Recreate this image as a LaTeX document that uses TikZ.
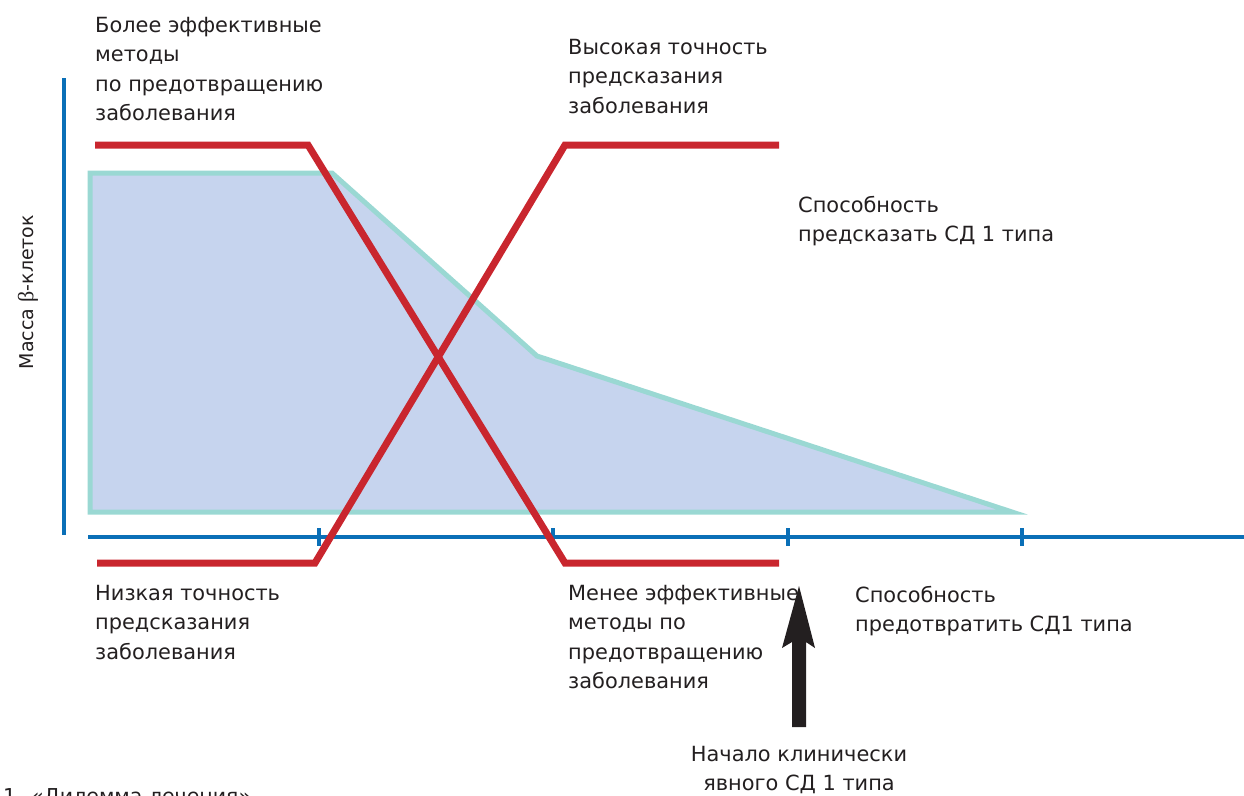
\documentclass[tikz,border=0pt]{standalone}
\usepackage{fontspec}
\setmainfont{DejaVu Sans}
\newfontfamily\betafont{Liberation Serif}
\definecolor{axisblue}{HTML}{0A6FB7}
\definecolor{fillblue}{HTML}{C6D4EE}
\definecolor{tealedge}{HTML}{9AD8D3}
\definecolor{redline}{HTML}{C9262E}
\definecolor{txt}{HTML}{231F20}
\begin{document}
\begin{tikzpicture}[x=1pt,y=-1pt,
  lbl/.style={anchor=north west,align=left,inner sep=0pt,text=txt,font=\fontsize{20.9}{29.3}\selectfont},
  axisline/.style={draw=axisblue,line width=4pt},
  tickmark/.style={draw=axisblue,line width=4pt},
  redpath/.style={draw=redline,line width=7pt,line join=miter,line cap=butt}]
\useasboundingbox (0,0) rectangle (1244,795);
\clip (0,0) rectangle (1244,795);
% beta-cell mass area
\filldraw[fill=fillblue,draw=tealedge,line width=5pt,line join=miter]
  (90,173) -- (332,173) -- (537,356) -- (1012,512) -- (90,512) -- cycle;
% axes
\coordinate (ytop) at (64,78);
\coordinate (ybot) at (64,535);
\coordinate (xl) at (88,537);
\coordinate (xr) at (1244,537);
\draw[axisline] (ytop) -- (ybot);
\draw[axisline] (xl) -- (xr);
\foreach \tx in {319,553,788,1022}{
  \draw[tickmark] (\tx,528) -- (\tx,546);
}
% red lines
\coordinate (a1) at (95,145);
\coordinate (a2) at (308,145);
\coordinate (a3) at (565,563);
\coordinate (a4) at (779,563);
\coordinate (b1) at (97,563);
\coordinate (b2) at (315,563);
\coordinate (b3) at (565,145);
\coordinate (b4) at (779,145);
\draw[redpath] (a1) -- (a2) -- (a3) -- (a4);
\draw[redpath] (b1) -- (b2) -- (b3) -- (b4);
% arrow
\fill[txt] (792,727) -- (792,642) -- (782,648) -- (799,586) -- (815,648) -- (806,642) -- (806,727) -- cycle;
% labels
\node[lbl] (t1) at (95,17) {Более эффективные\\методы\\по предотвращению\\заболевания};
\node[lbl] (t2) at (568,39) {Высокая точность\\предсказания\\заболевания};
\node[lbl] (t3) at (798,196) {Способность\\предсказать СД 1 типа};
\node[lbl] (t4) at (95,585) {Низкая точность\\предсказания\\заболевания};
\node[lbl] (t5) at (568,585) {Менее эффективные\\методы по\\предотвращению\\заболевания};
\node[lbl] (t6) at (855,586) {Способность\\предотвратить СД1 типа};
\node[lbl,anchor=north,align=center] (t7) at (799,746) {Начало клинически\\явного СД 1 типа};
\node[inner sep=0pt,text=txt,font=\fontsize{19}{24}\selectfont,rotate=90] (ylab) at (28,292) {Масса {\betafont\fontsize{22}{24}\selectfont β}-клеток};
\node[anchor=base west,inner sep=0pt,text=txt,font=\fontsize{20.5}{22}\selectfont] (cap) at (3,803) {1. «Дилемма лечения»};
\end{tikzpicture}
\end{document}
